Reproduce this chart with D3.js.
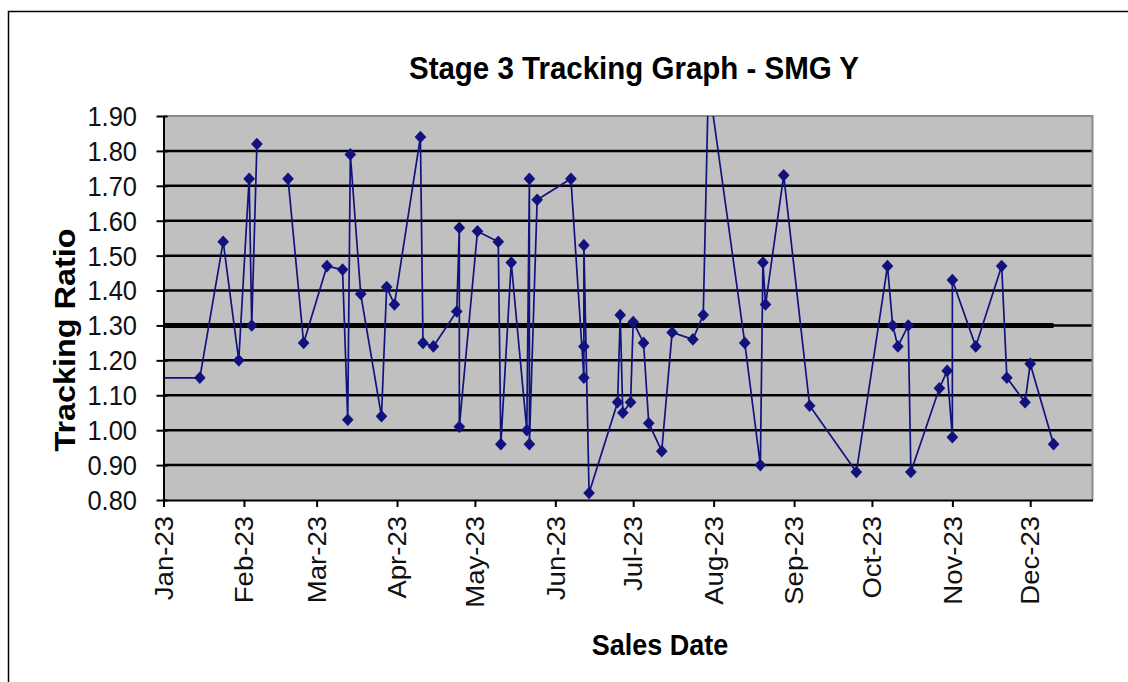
<!DOCTYPE html>
<html>
<head>
<meta charset="utf-8">
<script src="https://cdn.jsdelivr.net/npm/d3@7"></script>
<style>
  html, body { margin: 0; padding: 0; background: #fff; }
  svg { display: block; font-family: "Liberation Sans", Arial, sans-serif; }
</style>
</head>
<body>
<svg id="chart" width="1128" height="682"></svg>
<script>
// ---- data ----
const chartTitle = "Stage 3 Tracking Graph - SMG Y";
const xTitle = "Sales Date";
const yTitle = "Tracking Ratio";

const saleDates = [
  "2022-12-20","2023-01-15","2023-01-24","2023-01-30","2023-02-03","2023-02-04","2023-02-06",
  "2023-02-11",
  "2023-02-18","2023-02-24","2023-03-05","2023-03-11","2023-03-13","2023-03-14","2023-03-18",
  "2023-03-26","2023-03-28","2023-03-31","2023-04-10","2023-04-11","2023-04-15","2023-04-24",
  "2023-04-25","2023-04-25","2023-05-02","2023-05-10","2023-05-11","2023-05-15","2023-05-21",
  "2023-05-22","2023-05-22","2023-05-25","2023-06-07","2023-06-12","2023-06-12","2023-06-12",
  "2023-06-14","2023-06-25","2023-06-26","2023-06-27","2023-06-30","2023-07-01","2023-07-05",
  "2023-07-07","2023-07-12","2023-07-16","2023-07-24","2023-07-28","2023-07-30","2023-08-13",
  "2023-08-19","2023-08-20","2023-08-21","2023-08-28","2023-09-07","2023-09-25","2023-10-07",
  "2023-10-09","2023-10-11","2023-10-15","2023-10-16","2023-10-27","2023-10-30","2023-11-01",
  "2023-11-01","2023-11-10","2023-11-20","2023-11-22","2023-11-29","2023-12-01","2023-12-10"
];
const trackingRatio = [
  1.15, 1.15, 1.54, 1.20, 1.72, 1.30, 1.82,
  null,
  1.72, 1.25, 1.47, 1.46, 1.03, 1.79, 1.39,
  1.04, 1.41, 1.36, 1.84, 1.25, 1.24, 1.34,
  1.58, 1.01, 1.57, 1.54, 0.96, 1.48, 1.00,
  1.72, 0.96, 1.66, 1.72, 1.15, 1.24, 1.53,
  0.82, 1.08, 1.33, 1.05, 1.08, 1.31, 1.25,
  1.02, 0.94, 1.28, 1.26, 1.33, 2.00, 1.25,
  0.90, 1.48, 1.36, 1.73, 1.07, 0.88, 1.47,
  1.30, 1.24, 1.30, 0.88, 1.12, 1.17, 0.98,
  1.43, 1.24, 1.47, 1.15, 1.08, 1.19, 0.96
];
const targetDates = ["2023-01-01", "2023-12-10"];
const targetValues = [1.30, 1.30];

const yTickValues = [0.80, 0.90, 1.00, 1.10, 1.20, 1.30, 1.40, 1.50, 1.60, 1.70, 1.80, 1.90];
const xDomain = ["2023-01-01", "2023-12-25"];
const monthTickStart = "2023-01-01";
const monthTickEnd = "2023-12-02";

// ---- layout ----
const plot = { left: 163.5, right: 1092.5, top: 116, bottom: 500 };
const stretch = 1.08; // reference text appears vertically stretched

const parse = d3.timeParse("%Y-%m-%d");
const svg = d3.select("#chart");

// chart frame
svg.append("rect")
  .attr("x", 8.5).attr("y", 11.5).attr("width", 1200).attr("height", 700)
  .attr("fill", "#fff").attr("stroke", "#000").attr("stroke-width", 1.5);

const x = d3.scaleTime()
  .domain(xDomain.map(parse))
  .range([plot.left, plot.right]);
const y = d3.scaleLinear()
  .domain([0.80, 1.90])
  .range([plot.bottom, plot.top]);

// plot area
svg.append("rect")
  .attr("x", plot.left).attr("y", plot.top)
  .attr("width", plot.right - plot.left).attr("height", plot.bottom - plot.top)
  .attr("fill", "#c0c0c0");

// gridlines
svg.append("g").selectAll("line")
  .data(yTickValues.filter(v => v > 0.8 && v < 1.9))
  .join("line")
  .attr("x1", plot.left).attr("x2", plot.right)
  .attr("y1", d => y(d)).attr("y2", d => y(d))
  .attr("stroke", "#000").attr("stroke-width", 2.5);

// top / right border of plot area
svg.append("path")
  .attr("d", `M${plot.left},${plot.top}H${plot.right}V${plot.bottom}`)
  .attr("fill", "none").attr("stroke", "#8c8c8c").attr("stroke-width", 2);

// clip
svg.append("clipPath").attr("id", "plotClip")
  .append("rect")
  .attr("x", plot.left).attr("y", plot.top)
  .attr("width", plot.right - plot.left).attr("height", plot.bottom - plot.top);

// target line
const targetData = targetDates.map((d, i) => ({ date: parse(d), value: targetValues[i] }));
svg.append("path")
  .datum(targetData)
  .attr("clip-path", "url(#plotClip)")
  .attr("d", d3.line().x(d => x(d.date)).y(d => y(d.value)))
  .attr("fill", "none").attr("stroke", "#000").attr("stroke-width", 5);

// series
const seriesData = saleDates.map((d, i) => ({ date: parse(d), value: trackingRatio[i] }));
const navy = "#12127f";
const gSeries = svg.append("g").attr("clip-path", "url(#plotClip)");
gSeries.append("path")
  .datum(seriesData)
  .attr("d", d3.line().defined(d => d.value !== null).x(d => x(d.date)).y(d => y(d.value)))
  .attr("fill", "none").attr("stroke", navy).attr("stroke-width", 1.7);

const diamond = d3.symbol(d3.symbolSquare, 68);
gSeries.selectAll("path.mk")
  .data(seriesData.filter(d => d.value !== null))
  .join("path")
  .attr("class", "mk")
  .attr("d", diamond)
  .attr("transform", d => `translate(${x(d.date)},${y(d.value)}) scale(1,${stretch}) rotate(45)`)
  .attr("fill", navy);

// y axis
const yAxis = svg.append("g")
  .attr("transform", `translate(${plot.left},0)`)
  .call(d3.axisLeft(y).tickValues(yTickValues).tickSizeInner(7).tickSizeOuter(0).tickFormat(""));
yAxis.select(".domain").attr("stroke", "#000").attr("stroke-width", 2);
yAxis.selectAll(".tick line").attr("x1", 4).attr("x2", -7).attr("stroke", "#000").attr("stroke-width", 2);

// y tick labels
svg.append("g").selectAll("g")
  .data(yTickValues)
  .join("g")
  .attr("transform", d => `translate(137,${y(d)}) scale(1,${stretch})`)
  .append("text")
  .attr("text-anchor", "end").attr("dy", "0.36em")
  .attr("font-size", 25.5).attr("fill", "#111")
  .text(d3.format(".2f"));

// x axis
const monthTicks = d3.timeMonth.range(parse(monthTickStart), parse(monthTickEnd));
const xAxis = svg.append("g")
  .attr("transform", `translate(0,${plot.bottom})`)
  .call(d3.axisBottom(x).tickValues(monthTicks).tickSizeInner(7).tickSizeOuter(0).tickFormat(""));
xAxis.select(".domain").attr("stroke", "#000").attr("stroke-width", 2);
xAxis.selectAll(".tick line").attr("stroke", "#000").attr("stroke-width", 2);

const fmtMonth = d3.timeFormat("%b-%y");
svg.append("g").selectAll("g")
  .data(monthTicks)
  .join("g")
  .attr("transform", d => `translate(${x(d)},516) scale(1,${stretch})`)
  .append("text")
  .attr("transform", "rotate(-90)")
  .attr("text-anchor", "end").attr("dy", "0.36em")
  .attr("font-size", 25.5).attr("fill", "#111")
  .text(fmtMonth);

// titles
svg.append("g")
  .attr("transform", `translate(634,79) scale(1,${stretch})`)
  .append("text")
  .attr("text-anchor", "middle").attr("font-weight", "bold")
  .attr("font-size", 29.5).attr("fill", "#000")
  .text(chartTitle);

svg.append("g")
  .attr("transform", `translate(660,655) scale(1,${stretch})`)
  .append("text")
  .attr("text-anchor", "middle").attr("font-weight", "bold")
  .attr("font-size", 27).attr("fill", "#000")
  .text(xTitle);

svg.append("g")
  .attr("transform", `translate(75,340) scale(1,${stretch})`)
  .append("text")
  .attr("transform", "rotate(-90)")
  .attr("text-anchor", "middle").attr("font-weight", "bold")
  .attr("font-size", 30).attr("fill", "#000")
  .text(yTitle);
</script>
</body>
</html>
